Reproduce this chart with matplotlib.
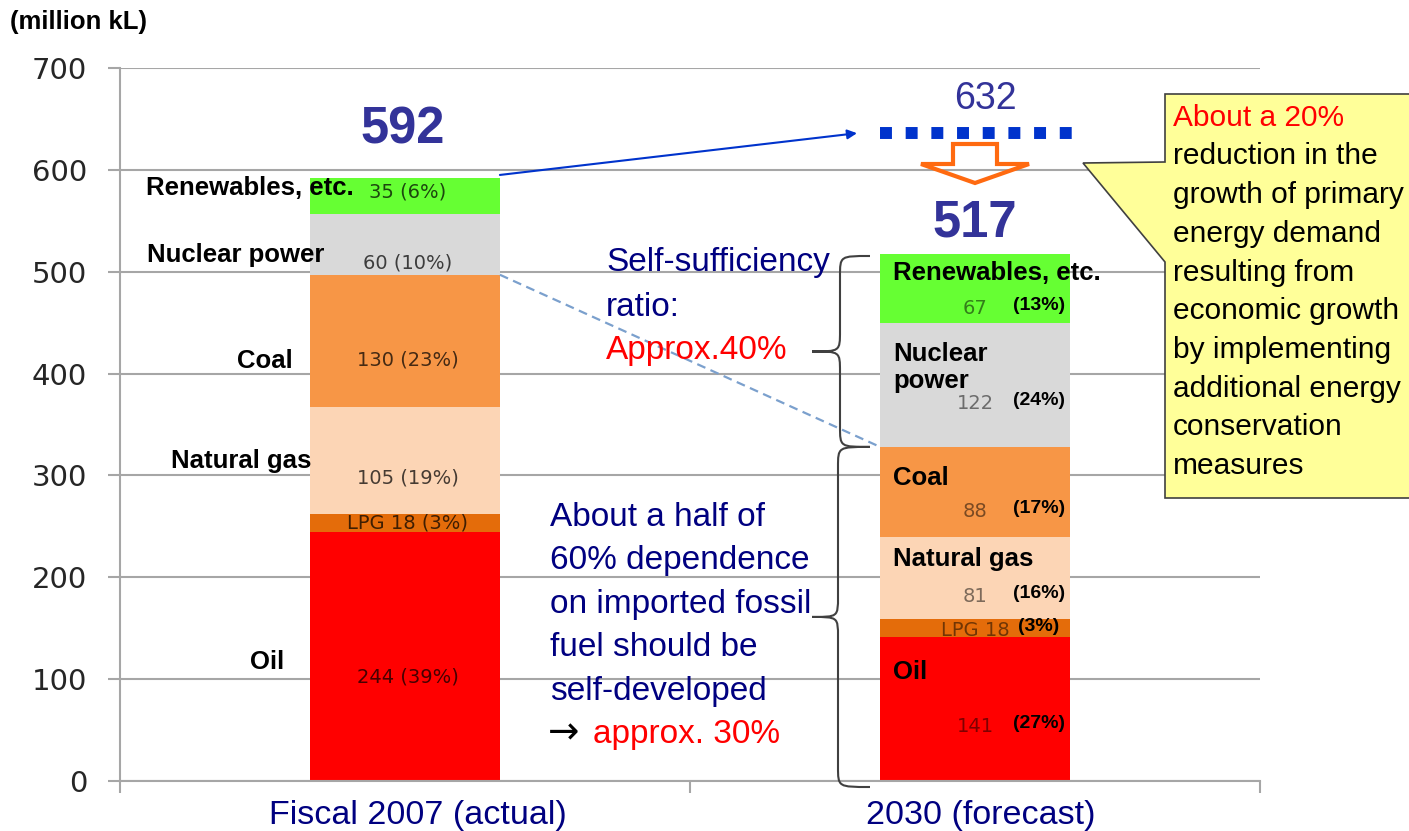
import matplotlib.pyplot as plt
import numpy as np
from matplotlib.patches import Polygon, PathPatch
from matplotlib.path import Path

plt.rcParams['font.family'] = ['Liberation Sans', 'DejaVu Sans']

# data (million kL of crude oil equivalent)
sources = ['Oil', 'LPG', 'Natural gas', 'Coal', 'Nuclear power', 'Renewables, etc.']
fy2007 = [244, 18, 105, 130, 60, 35]
fy2030 = [141, 18, 81, 88, 122, 67]
share2007 = [39, 3, 19, 23, 10, 6]
share2030 = [27, 3, 16, 17, 24, 13]
periods = ['Fiscal 2007 (actual)', '2030 (forecast)']
bau2030 = 632
colors = ['#FF0000', '#E46C0A', '#FCD5B5', '#F79646', '#D9D9D9', '#66FF33']

W, H = 1409, 831
fig = plt.figure(figsize=(W / 100, H / 100), dpi=100)
ax = fig.add_axes([120 / W, 1 - 781 / H, 1140 / W, 713 / H])

# pixel -> data helpers for annotation placement
def xd(px):
    return (px - 120) / 570.0

def yd(py):
    return (781 - py) / 713.0 * 700

xpos = [0.5, 1.5]
width = 0.333
navy = '#000080'
purple = '#333399'

bottoms_all = []
for i, vals in enumerate([fy2007, fy2030]):
    bottoms = np.concatenate([[0], np.cumsum(vals)[:-1]])
    bottoms_all.append(bottoms)
    ax.bar(xpos[i], vals, width, bottom=bottoms, color=colors, zorder=2)

# 2007 labels
frac_val07 = [0.42, 0.5, 0.34, 0.36, 0.19, 0.61]
frac_cat07 = [0.48, None, 0.5, 0.35, 0.32, 0.71]
catx07 = [267, None, 241, 265, 236, 250]
b07 = bottoms_all[0]
for k in range(len(sources)):
    y = b07[k] + frac_val07[k] * fy2007[k]
    if sources[k] == 'LPG':
        s = 'LPG %d (%d%%)' % (fy2007[k], share2007[k])
    else:
        s = '%d (%d%%)' % (fy2007[k], share2007[k])
    ax.text(xpos[0] + 0.005, y, s, ha='center', va='center', fontsize=14,
            family='DejaVu Sans', color='black', alpha=0.72, zorder=4)
    if frac_cat07[k] is not None:
        ax.text(xd(catx07[k]), b07[k] + frac_cat07[k] * fy2007[k], sources[k],
                ha='center', va='center', fontsize=18.5, fontweight='bold', zorder=4)

# 2030 labels
frac_val30 = [0.376, 0.4, 0.27, 0.28, 0.35, 0.2]
frac_cat30 = [0.76, None, 0.73, 0.65, 0.64, 0.73]
b30 = bottoms_all[1]
for k in range(len(sources)):
    y = b30[k] + frac_val30[k] * fy2030[k]
    if sources[k] == 'LPG':
        s = 'LPG %d' % fy2030[k]
    else:
        s = '%d' % fy2030[k]
    ax.text(xpos[1], y, s, ha='center', va='center', fontsize=14,
            family='DejaVu Sans', color='black', alpha=0.5, zorder=4)
    ax.text(xd(1039), y + 3, '(%d%%)' % share2030[k], ha='center', va='center',
            fontsize=14, fontweight='bold', zorder=4)
    if frac_cat30[k] is not None:
        name = 'Nuclear\npower' if sources[k] == 'Nuclear power' else sources[k]
        ax.text(xd(893), b30[k] + frac_cat30[k] * fy2030[k], name, ha='left',
                va='center', fontsize=18.5, fontweight='bold', zorder=4,
                linespacing=1.15)

# totals
tot07 = sum(fy2007)
tot30 = sum(fy2030)
ax.text(xd(403), yd(130), str(tot07), ha='center', va='center', fontsize=36.5,
        fontweight='bold', color=purple)
ax.text(xd(975), yd(223), str(tot30), ha='center', va='center', fontsize=36.5,
        fontweight='bold', color=purple)
ax.text(xd(985), yd(99), str(bau2030), ha='center', va='center', fontsize=27,
        color=purple)

# business-as-usual level
ax.plot([xpos[1] - width / 2, xpos[1] + width / 2 + 0.01], [bau2030 + 4, bau2030 + 4],
        color='#0033CC', lw=8.6, ls=(0, (1, 1.15)), dash_capstyle='butt', zorder=3)
ax.annotate('', xy=(xd(857), bau2030 + 4), xytext=(xpos[0] + width / 2, tot07 + 3),
            arrowprops=dict(arrowstyle='-|>', color='#0033CC', lw=1.5,
                            mutation_scale=14, shrinkA=0, shrinkB=0))

# orange hollow down arrow
xc = xpos[1]
sh, hh = 22 / 570.0, 54 / 570.0
arrow_pts = [(xc - sh, yd(144)), (xc + sh, yd(144)), (xc + sh, yd(164)),
             (xc + hh, yd(164)), (xc, yd(183)), (xc - hh, yd(164)),
             (xc - sh, yd(164))]
ax.add_patch(Polygon(arrow_pts, closed=True, fill=False, edgecolor='#FF6A10',
                     lw=3, joinstyle='miter', zorder=3))

# dashed connector
ax.plot([xpos[0] + width / 2, xpos[1] - width / 2],
        [b07[4], b30[4]], color='#7BA0CD', lw=1.6, ls=(0, (4, 2.5)), zorder=3)

# braces
def brace(ytop, ybot, x_stem, x_tip, x_point, r):
    ymid = (ytop + ybot) / 2.0
    verts = [(x_tip, ytop), (x_stem, ytop), (x_stem, ytop), (x_stem, ytop - r),
             (x_stem, ymid + r),
             (x_stem, ymid), (x_stem, ymid), (x_point, ymid),
             (x_stem, ymid), (x_stem, ymid), (x_stem, ymid - r),
             (x_stem, ybot + r),
             (x_stem, ybot), (x_stem, ybot), (x_tip, ybot)]
    codes = [Path.MOVETO, Path.CURVE4, Path.CURVE4, Path.CURVE4,
             Path.LINETO,
             Path.CURVE4, Path.CURVE4, Path.CURVE4,
             Path.CURVE4, Path.CURVE4, Path.CURVE4,
             Path.LINETO,
             Path.CURVE4, Path.CURVE4, Path.CURVE4]
    ax.add_patch(PathPatch(Path(verts, codes), fill=False, edgecolor='#404040',
                           lw=1.5, clip_on=False, zorder=3))

brace(yd(256), b30[3] + fy2030[3], xd(840), xd(870), xd(812), 20)
brace(b30[3] + fy2030[3], yd(787), xd(838), xd(870), xd(812), 20)

# blue notes
note1 = ['Self-sufficiency', 'ratio:']
for j, line in enumerate(note1):
    ax.text(xd(606), yd(263 + 44 * j), line, ha='left', va='center', fontsize=24,
            color=navy, zorder=5)
ax.text(xd(606), yd(351), 'Approx.40%', ha='left', va='center', fontsize=24,
        color='red', zorder=5)

note2 = ['About a half of', '60% dependence', 'on imported fossil',
         'fuel should be', 'self-developed']
for j, line in enumerate(note2):
    ax.text(xd(550), yd(517 + 43.6 * j), line, ha='left', va='center', fontsize=24,
            color=navy, zorder=5)
ax.text(xd(548), yd(733), '\u2192', ha='left', va='center', fontsize=27,
        family='DejaVu Sans', color='black', zorder=5)
ax.text(xd(593), yd(735), 'approx. 30%', ha='left', va='center', fontsize=24,
        color='red', zorder=5)

# yellow callout
def fpt(px, py):
    return (px / W, 1 - py / H)

call = [fpt(1165, 94), fpt(1420, 94), fpt(1420, 498), fpt(1165, 498),
        fpt(1165, 262), fpt(1083, 163), fpt(1165, 162)]
fig.patches.append(Polygon(call, closed=True, facecolor='#FFFF99', edgecolor='#404040',
                           lw=1.2, transform=fig.transFigure, zorder=5))
call_lines = ['reduction in the', 'growth of primary', 'energy demand',
              'resulting from', 'economic growth', 'by implementing',
              'additional energy', 'conservation', 'measures']
fig.text(1173 / W, 1 - 118 / H, 'About a 20%', ha='left', va='center',
         fontsize=21.5, color='red', zorder=6)
for j, line in enumerate(call_lines):
    fig.text(1173 / W, 1 - (156.5 + 38.7 * j) / H, line, ha='left', va='center',
             fontsize=21.5, color='black', zorder=6)

# unit label
fig.text(10 / W, 1 - 22 / H, '(million kL)', ha='left', va='center', fontsize=18.5,
         fontweight='bold')

# axes styling
ax.set_xlim(0, 2)
ax.set_ylim(0, 700)
ax.set_yticks(range(0, 701, 100))
ax.yaxis.grid(True, color='#A6A6A6', lw=1.5)
ax.set_axisbelow(True)
for sp in ['top', 'right']:
    ax.spines[sp].set_visible(False)
for sp in ['left', 'bottom']:
    ax.spines[sp].set_color('#A6A6A6')
    ax.spines[sp].set_linewidth(1.5)
ax.tick_params(axis='y', length=8.6, width=1.5, color='#A6A6A6', pad=15,
               labelsize=21, labelcolor='#262626')
for lbl in ax.get_yticklabels():
    lbl.set_family('DejaVu Sans')
ax.set_xticks([0, 1, 2])
ax.set_xticklabels([])
ax.tick_params(axis='x', which='major', length=8.6, width=1.5, color='#A6A6A6')
ax.set_xticks([xd(418), xd(981)], minor=True)
ax.set_xticklabels(periods, minor=True)
ax.tick_params(axis='x', which='minor', length=0, pad=14, labelsize=24.5,
               labelcolor=navy)

fig.savefig('out.png', dpi=100)
